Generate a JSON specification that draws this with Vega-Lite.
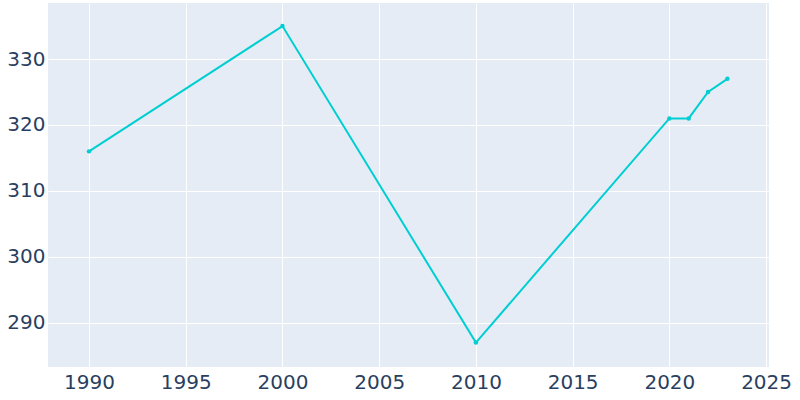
{
  "$schema": "https://vega.github.io/schema/vega-lite/v6.json",
  "width": 721,
  "height": 364,
  "autosize": {"type": "none"},
  "padding": {"left": 48, "top": 3, "right": 31, "bottom": 33},
  "background": "white",
  "config": {
    "view": {"fill": "#E5ECF6", "stroke": null},
    "axis": {
      "domain": false,
      "ticks": false,
      "gridColor": "white",
      "gridWidth": 1,
      "labelFont": "DejaVu Sans",
      "labelFontSize": 20,
      "labelColor": "#2a3f5f",
      "title": null
    }
  },
  "data": {
    "values": [
      {"year": 1990, "population": 316},
      {"year": 2000, "population": 335},
      {"year": 2010, "population": 287},
      {"year": 2020, "population": 321},
      {"year": 2021, "population": 321},
      {"year": 2022, "population": 325},
      {"year": 2023, "population": 327}
    ]
  },
  "mark": {"type": "line", "color": "#00CED1", "strokeWidth": 2, "point": {"filled": true, "size": 20, "color": "#00CED1"}},
  "encoding": {
    "x": {
      "field": "year",
      "type": "quantitative",
      "scale": {"domain": [1987.88, 2025.15], "nice": false, "zero": false},
      "axis": {"values": [1990, 1995, 2000, 2005, 2010, 2015, 2020, 2025], "format": "d", "labelPadding": 5}
    },
    "y": {
      "field": "population",
      "type": "quantitative",
      "scale": {"domain": [283.3, 338.5], "nice": false, "zero": false},
      "axis": {"values": [290, 300, 310, 320, 330], "labelPadding": 3}
    }
  }
}
